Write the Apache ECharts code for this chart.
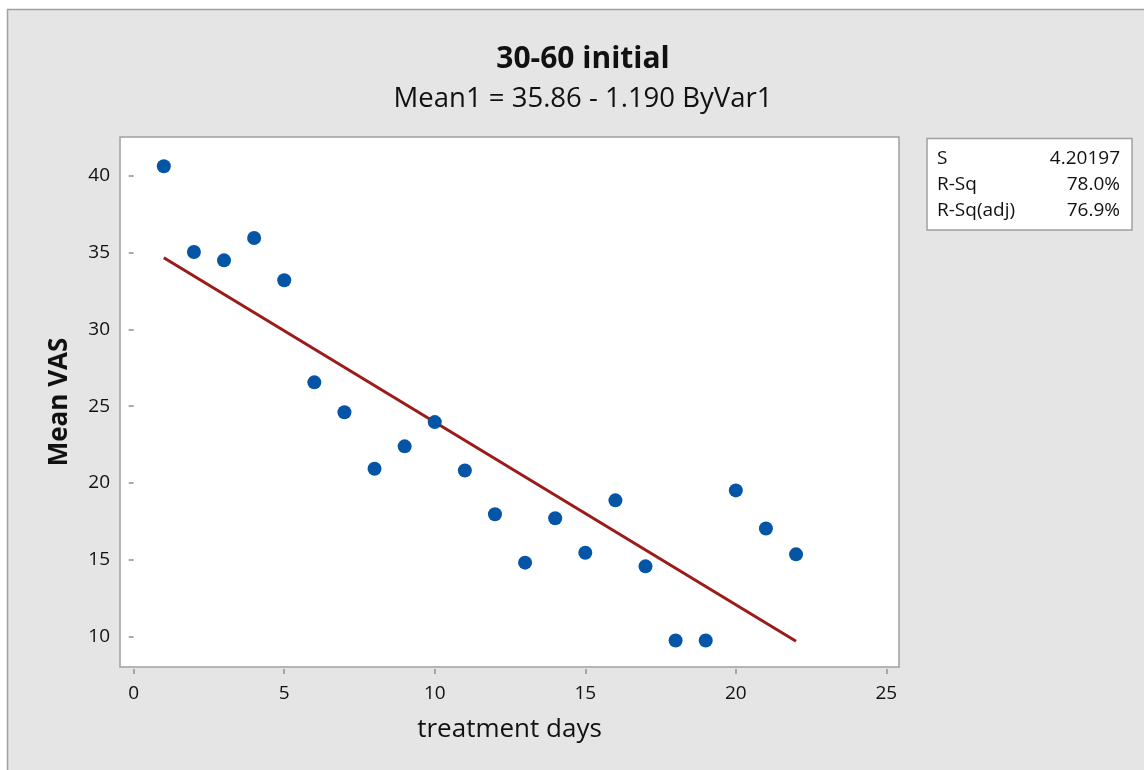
<!DOCTYPE html>
<html>
<head>
<meta charset="utf-8">
<script src="https://cdn.jsdelivr.net/npm/echarts@6/dist/echarts.min.js"></script>
<style>
  html, body { margin: 0; padding: 0; background: #ffffff; }
  #main { width: 1144px; height: 770px; }
</style>
</head>
<body>
<div id="main"></div>
<script>
/* data */
var days = [1, 2, 3, 4, 5, 6, 7, 8, 9, 10, 11, 12, 13, 14, 15, 16, 17, 18, 19, 20, 21, 22];
var meanVas = [40.63, 35.05, 34.5, 35.96, 33.2, 26.55, 24.6, 20.92, 22.38, 23.96, 20.81,
               17.95, 14.8, 17.69, 15.45, 18.86, 14.56, 9.73, 9.73, 19.51, 17.03, 15.34];
// fitted line end points (Mean1 = 35.86 - 1.190 ByVar1)
var fitX = [1, 22];
var fitY = [34.67, 9.68];
var xTicks = [0, 5, 10, 15, 20, 25];
var yTicks = [10, 15, 20, 25, 30, 35, 40];
var statNames = ["S", "R-Sq", "R-Sq(adj)"];
var statValues = ["4.20197", "78.0%", "76.9%"];

var font = "Open Sans";
var textColor = "#111111";
var frameColor = "#a0a0a0";

var myChart = echarts.init(document.getElementById("main"), null, {renderer: "canvas"});

/* stats box rows */
var statTexts = [];
statNames.forEach(function (name, i) {
    statTexts.push({
        type: "text", x: 937, y: 159 + i * 26,
        style: { text: name, font: "19px '" + font + "'", fill: textColor, textVerticalAlign: "middle" }
    });
    statTexts.push({
        type: "text", x: 1120, y: 159 + i * 26,
        style: { text: statValues[i], font: "19px '" + font + "'", fill: textColor,
                 textAlign: "right", textVerticalAlign: "middle" }
    });
});

var state = {
    backgroundColor: "#ffffff",
    textStyle: { fontFamily: font },
    animation: false,
    graphic: [
        {
            type: "rect", z: -10, silent: true,
            shape: { x: 7.5, y: 9.5, width: 1200, height: 800 },
            style: { fill: "#e5e5e5", stroke: frameColor, lineWidth: 1.5 }
        },
        {
            type: "text", x: 583, y: 59,
            style: { text: "30-60 initial", font: "bold 30px '" + font + "'", fill: textColor,
                     textAlign: "center", textVerticalAlign: "middle" }
        },
        {
            type: "text", x: 583, y: 99,
            style: { text: "Mean1 = 35.86 - 1.190 ByVar1", font: "27.5px '" + font + "'", fill: textColor,
                     textAlign: "center", textVerticalAlign: "middle" }
        },
        {
            type: "rect",
            shape: { x: 927, y: 138.5, width: 205, height: 91.5 },
            style: { fill: "#ffffff", stroke: frameColor, lineWidth: 1.5 }
        }
    ].concat(statTexts),
    grid: {
        left: 120, top: 137, width: 779, height: 530,
        show: true, backgroundColor: "#ffffff",
        borderColor: frameColor, borderWidth: 1.5
    },
    xAxis: {
        type: "value",
        min: -0.455, max: 25.42,
        offset: 2,
        name: "treatment days",
        nameLocation: "middle",
        nameGap: 48,
        nameTextStyle: { fontSize: 26, color: textColor },
        axisLine: { show: false },
        axisTick: { show: true, length: 5, customValues: xTicks, lineStyle: { color: "#909090", width: 1.5 } },
        axisLabel: { customValues: xTicks, margin: 15, fontSize: 19, color: textColor },
        splitLine: { show: false }
    },
    yAxis: {
        type: "value",
        min: 8.0, max: 42.54,
        offset: 1,
        name: "Mean VAS",
        nameLocation: "middle",
        nameGap: 46,
        nameRotate: 90,
        nameTextStyle: { fontSize: 26, fontWeight: "bold", color: textColor },
        axisLine: { show: false },
        axisTick: { show: true, length: 5, customValues: yTicks, lineStyle: { color: "#909090", width: 1.5 } },
        axisLabel: { customValues: yTicks, margin: 9, fontSize: 19, color: textColor },
        splitLine: { show: false }
    },
    series: [
        {
            type: "line",
            data: fitX.map(function (x, i) { return [x, fitY[i]]; }),
            symbol: "none",
            lineStyle: { color: "#9b1b1b", width: 3 },
            z: 2
        },
        {
            type: "scatter",
            data: days.map(function (d, i) { return [d, meanVas[i]]; }),
            symbolSize: 14,
            itemStyle: { color: "#0455a5", opacity: 1 },
            z: 3
        }
    ]
};

myChart.setOption(state);
</script>
</body>
</html>
